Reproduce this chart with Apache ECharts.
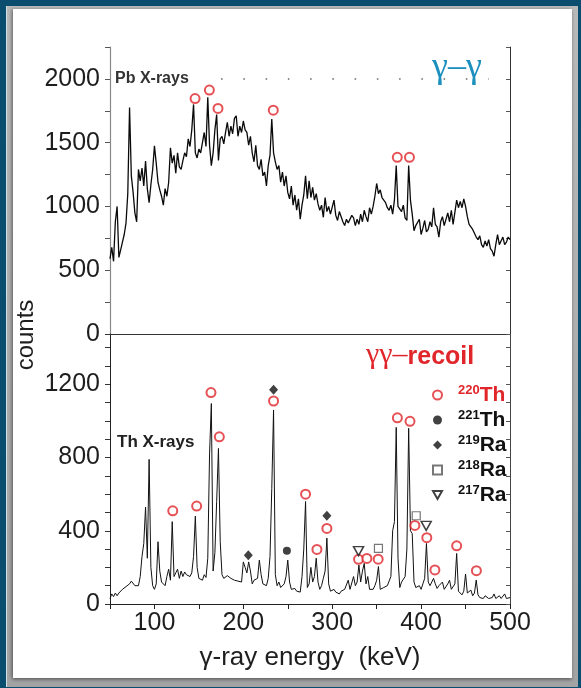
<!DOCTYPE html>
<html>
<head>
<meta charset="utf-8">
<script src="https://cdn.jsdelivr.net/npm/echarts@6/dist/echarts.min.js"></script>
<style>
  html, body { margin: 0; padding: 0; background: #0b4d6e; }
  #frame { position: absolute; left: 6px; top: 6px; width: 571px; height: 681px;
           background: linear-gradient(#b9b9b9, #a3a3a3); border-left: 1px solid #cfe0e8; }
  #panel { position: absolute; left: 13px; top: 9px; width: 559px; height: 669px; background: #fff;
           box-shadow: -2px 0 3px rgba(0,0,0,0.25), 0 2px 3px rgba(0,0,0,0.3); }
  #chart { position: absolute; left: 0; top: 0; width: 581px; height: 688px; }
</style>
</head>
<body>
<div id="frame"></div>
<div id="panel"></div>
<div id="chart"></div>
<script>
// Spectra binned in 2 keV steps from 50 keV to 500 keV
const binStart = 50;
const binWidth = 2;

// gamma-gamma coincidence spectrum (counts per bin)
const gammaGammaCounts = [
  590, 680, 570, 880, 1000, 600, 660, 720, 780, 870,
  1100, 1776, 1240, 1110, 950, 880, 1290, 1200, 1300, 1160,
  1355, 1140, 1030, 1170, 1290, 1475, 1340, 1190, 1130, 1080,
  1010, 1140, 1080, 1190, 1460, 1340, 1400, 1260, 1420, 1310,
  1290, 1360, 1420, 1390, 1530, 1470, 1600, 1800, 1420, 1380,
  1450, 1420, 1500, 1580, 1470, 1855, 1480, 1320, 1420, 1600,
  1720, 1360, 1530, 1550, 1490, 1580, 1660, 1550, 1630, 1570,
  1690, 1710, 1550, 1630, 1580, 1670, 1600, 1580, 1480, 1550,
  1420, 1350, 1480, 1320, 1290, 1370, 1240, 1270, 1160, 1320,
  1400, 1685, 1420, 1350, 1290, 1320, 1190, 1270, 1160, 1240,
  1110, 1060, 1160, 1010, 1090, 970, 1060, 900, 1010, 1090,
  1240, 1060, 1200, 1070, 1150, 1050, 1100, 1020, 970, 1010,
  915, 1070, 960, 1000, 940, 950, 1050, 930, 890, 960,
  970, 880, 850, 900, 870, 860, 930, 910, 850, 900,
  860, 940, 880, 970, 920, 880, 990, 940, 1000, 1080,
  1180, 1100, 1130, 1070, 1050, 1030, 990, 970, 1010, 940,
  1050, 1320, 1000, 990, 960, 1010, 910, 890, 1320, 1050,
  940, 810, 850, 840, 900, 780, 830, 890, 800, 820,
  880, 840, 990, 860, 840, 760, 880, 920, 850, 840,
  950, 880, 970, 860, 870, 1050, 990, 1040, 990, 1060,
  1000, 920, 860, 850, 820, 790, 760, 740, 770, 700,
  680, 730, 690, 740, 670, 650, 610, 700, 780, 700,
  710, 760, 700, 720, 760, 740
];

// gamma-gamma-recoil spectrum (counts per bin)
const recoilCounts = [
  30, 55, 40, 60, 45, 60, 70, 80, 90, 95,
  90, 110, 125, 120, 100, 90, 100, 150, 260, 330,
  530, 250, 790, 200, 100, 80, 110, 340, 180, 120,
  110, 100, 150, 190, 130, 450, 150, 170, 190, 140,
  180, 150, 175, 160, 150, 150, 170, 260, 480, 200,
  140, 150, 130, 160, 145, 250, 820, 1095, 180, 280,
  560, 850, 340, 160, 140, 150, 155, 145, 140, 150,
  130, 140, 125, 130, 120, 230, 200, 170, 230, 180,
  110, 130, 120, 140, 240, 160, 110, 120, 100, 140,
  260, 630, 1060, 160, 100, 120, 90, 100, 110, 150,
  240, 120, 80, 75, 85, 70, 80, 65, 150, 300,
  560, 90, 110, 200, 120, 150, 250, 120, 80, 100,
  140, 180, 360, 110, 70, 60, 80, 65, 75, 55,
  70, 65, 80, 90, 130, 80, 90, 150, 100, 120,
  213, 120, 180, 222, 110, 150, 80, 90, 80, 100,
  130, 205, 80, 75, 90, 80, 100, 90, 150, 400,
  450, 965, 250, 90, 120, 110, 150, 300, 960, 400,
  385, 120, 90, 85, 100, 80, 110, 140, 331, 120,
  100, 90, 140, 110, 85, 100, 90, 120, 80, 75,
  110, 130, 80, 70, 110, 276, 70, 60, 50, 70,
  164, 60, 50, 76, 45, 60, 131, 50, 35, 40,
  30, 45, 35, 30, 40, 35, 55, 30, 35, 45,
  30, 40, 55, 30, 40, 35
];

// Line identifications [energy keV, marker height in counts]
const th220Top = [[145.7, 1846], [161.8, 1912], [171.5, 1768], [233.7, 1755], [373.2, 1385], [386.9, 1385]];
const th220 = [[120.6, 509], [147.5, 535], [163.6, 1155], [173, 913], [234, 1109], [270, 600], [282.8, 298],
               [294, 413], [329.6, 244], [339, 249], [351.7, 245], [373.3, 1017], [387.5, 998], [393, 429],
               [406.4, 362], [415.5, 186], [440, 318], [462.2, 182]];
const th221 = [[249, 291]];
const ra219 = [[205.6, 267], [234, 1171], [294, 482]];
const ra218 = [[352, 304], [394.5, 482]];
const ra217 = [[329.6, 289], [405.7, 427]];

const xTicks = [100, 200, 300, 400, 500];
const topTicks = [0, 500, 1000, 1500, 2000];
const bottomTicks = [0, 400, 800, 1200];
const legendNames = ['220Th', '221Th', '219Ra', '218Ra', '217Ra'];

const toPairs = arr => arr.map((c, i) => [binStart + i * binWidth, c]);

const FONT = '"Liberation Sans", Arial, sans-serif';
const RED = '#e0262b';
const labelStyle = { fontFamily: FONT, fontSize: 25, color: '#1e1e1e' };

const chart = echarts.init(document.getElementById('chart'), null, { renderer: 'canvas' });

const ringStyle = { color: '#ffffff', borderColor: RED, borderWidth: 2 };
const downTriangle = 'path://M0,0 L10,0 L5,9 Z';

chart.setOption({
  animation: false,
  grid: [
    { left: 110, top: 47, width: 400, height: 287 },
    { left: 110, top: 334, width: 400, height: 270 }
  ],
  xAxis: [
    { gridIndex: 0, type: 'value', min: 50, max: 500, position: 'bottom',
      axisLine: { lineStyle: { color: '#8a8a8a', width: 1.2 } },
      axisTick: { show: false }, axisLabel: { show: false }, splitLine: { show: false } },
    { gridIndex: 0, type: 'value', min: 50, max: 500, position: 'top',
      axisLine: { lineStyle: { color: '#333', width: 1 } },
      axisTick: { show: false }, axisLabel: { show: false }, splitLine: { show: false } },
    { gridIndex: 1, type: 'value', min: 50, max: 500, interval: 50, position: 'bottom',
      axisLine: { lineStyle: { color: '#222', width: 1 } },
      axisTick: { length: 5, lineStyle: { color: '#222' } },
      axisLabel: Object.assign({ margin: 7, formatter: v => xTicks.includes(v) ? String(v) : '' }, labelStyle),
      splitLine: { show: false },
      name: '\u03b3-ray energy  (keV)', nameLocation: 'middle', nameGap: 41,
      nameTextStyle: { fontFamily: FONT, fontSize: 26, color: '#1e1e1e' } }
  ],
  yAxis: [
    { gridIndex: 0, type: 'value', min: 0, max: 2250, interval: 250, position: 'left',
      axisLine: { show: true, lineStyle: { color: '#8a8a8a', width: 1.2 } },
      axisTick: { length: 5, lineStyle: { color: '#555' } },
      axisLabel: Object.assign({ margin: 10, formatter: v => topTicks.includes(v) ? String(v) : '' }, labelStyle),
      splitLine: { show: false } },
    { gridIndex: 1, type: 'value', min: 0, max: 1475, interval: 100, position: 'left',
      axisLine: { show: true, lineStyle: { color: '#222', width: 1 } },
      axisTick: { length: 5, lineStyle: { color: '#333' } },
      axisLabel: Object.assign({ margin: 10, formatter: v => bottomTicks.includes(v) ? String(v) : '' }, labelStyle),
      splitLine: { show: false } },
    { gridIndex: 0, type: 'value', min: 0, max: 2250, interval: 250, position: 'right',
      axisLine: { show: true, lineStyle: { color: '#333', width: 1 } },
      axisTick: { inside: true, length: 4, lineStyle: { color: '#555' } },
      axisLabel: { show: false }, splitLine: { show: false } },
    { gridIndex: 1, type: 'value', min: 0, max: 1475, interval: 100, position: 'right',
      axisLine: { show: true, lineStyle: { color: '#444', width: 1 } },
      axisTick: { inside: true, length: 4, lineStyle: { color: '#555' } },
      axisLabel: { show: false }, splitLine: { show: false } }
  ],
  legend: {
    orient: 'vertical', left: 432, top: 384, padding: 0,
    itemWidth: 9, itemHeight: 9, itemGap: 3, selectedMode: false,
    data: legendNames,
    formatter: name => {
      const m = name.match(/^(\d+)(\D+)$/);
      const red = name === '220Th';
      return '{pad|}{' + (red ? 'supR' : 'sup') + '|' + m[1] + '}{' + (red ? 'elR' : 'el') + '|' + m[2] + '}';
    },
    textStyle: {
      rich: {
        pad: { width: 11 },
        sup: { fontFamily: FONT, fontSize: 13, fontWeight: 'bold', color: '#111', lineHeight: 14, verticalAlign: 'top' },
        supR: { fontFamily: FONT, fontSize: 13, fontWeight: 'bold', color: RED, lineHeight: 14, verticalAlign: 'top' },
        el: { fontFamily: FONT, fontSize: 21, fontWeight: 'bold', color: '#111', lineHeight: 22, verticalAlign: 'bottom' },
        elR: { fontFamily: FONT, fontSize: 21, fontWeight: 'bold', color: RED, lineHeight: 22, verticalAlign: 'bottom' }
      }
    }
  },
  graphic: [
    { type: 'text', left: 115, top: 71, style: { text: 'Pb X-rays', font: 'bold 16px ' + FONT, fill: '#333' } },
    { type: 'text', left: 117, top: 434, style: { text: 'Th X-rays', font: 'bold 17px ' + FONT, fill: '#222' } },
    { type: 'text', left: 432, top: 50, style: { text: '\u03b3\u2013\u03b3', font: '36px "Liberation Serif", serif', fill: '#1b8fbd' } },
    { type: 'text', left: 366, top: 340,
      style: { text: '{g|\u03b3\u03b3\u2013}{r|recoil}',
        rich: {
          g: { font: '30px "Liberation Serif", serif', fill: RED, verticalAlign: 'bottom', lineHeight: 30 },
          r: { font: 'bold 25px ' + FONT, fill: RED, verticalAlign: 'bottom', lineHeight: 30 }
        } } },
    { type: 'text', x: 26, y: 335, rotation: Math.PI / 2,
      style: { text: 'counts', font: '24px ' + FONT, fill: '#1e1e1e', align: 'center', verticalAlign: 'middle' } }
  ],
  series: [
    { type: 'line', name: 'gamma-gamma', xAxisIndex: 0, yAxisIndex: 0, data: toPairs(gammaGammaCounts),
      showSymbol: false, lineStyle: { color: '#0a0a0a', width: 1.3 }, z: 3,
      markLine: { silent: true, symbol: 'none', label: { show: false },
        lineStyle: { color: '#8c8c8c', width: 2, type: [1.5, 20.75] },
        data: [[{ coord: [175, 2000] }, { coord: [476, 2000] }]] } },
    { type: 'line', name: 'gamma-gamma-recoil', xAxisIndex: 2, yAxisIndex: 1, data: toPairs(recoilCounts),
      showSymbol: false, lineStyle: { color: '#111', width: 1 }, z: 3 },
    { type: 'scatter', name: '220Th', xAxisIndex: 0, yAxisIndex: 0, data: th220Top,
      symbol: 'circle', symbolSize: 9, itemStyle: ringStyle, z: 5 },
    { type: 'scatter', name: '220Th', xAxisIndex: 2, yAxisIndex: 1, data: th220,
      symbol: 'circle', symbolSize: 9, itemStyle: ringStyle, z: 5 },
    { type: 'scatter', name: '221Th', xAxisIndex: 2, yAxisIndex: 1, data: th221,
      symbol: 'circle', symbolSize: 8, itemStyle: { color: '#111' }, z: 5 },
    { type: 'scatter', name: '219Ra', xAxisIndex: 2, yAxisIndex: 1, data: ra219,
      symbol: 'diamond', symbolSize: [9, 10], itemStyle: { color: '#111' }, z: 5 },
    { type: 'scatter', name: '218Ra', xAxisIndex: 2, yAxisIndex: 1, data: ra218,
      symbol: 'rect', symbolSize: 8, itemStyle: { color: '#fff', borderColor: '#555', borderWidth: 1.2 }, z: 5 },
    { type: 'scatter', name: '217Ra', xAxisIndex: 2, yAxisIndex: 1, data: ra217,
      symbol: downTriangle, symbolSize: [10, 9], itemStyle: { color: '#fff', borderColor: '#111', borderWidth: 1.5 }, z: 5 }
  ]
});
</script>
</body>
</html>
